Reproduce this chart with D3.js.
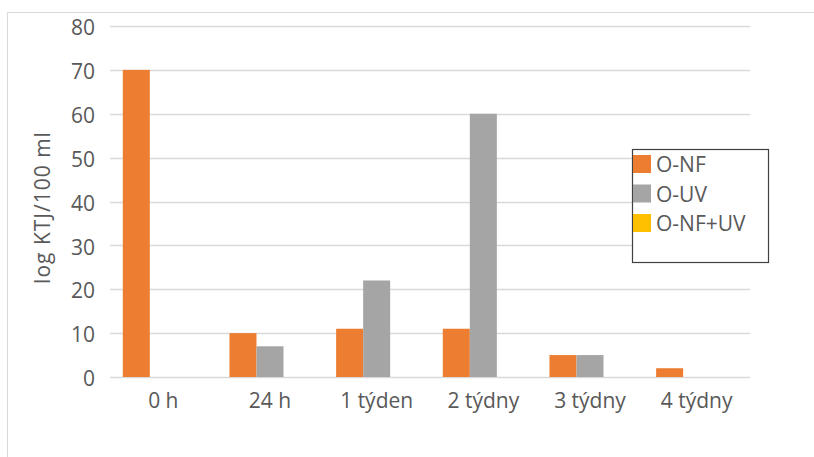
<!DOCTYPE html>
<html>
<head>
<meta charset="utf-8">
<script src="https://cdn.jsdelivr.net/npm/d3@7"></script>
<style>
  html, body { margin: 0; padding: 0; background: #fff; }
  svg { display: block; }
  svg text { font-family: "Open Sans", "Noto Sans", sans-serif; }
</style>
</head>
<body>
<svg id="chart" width="814" height="457"></svg>
<script>
// Time points after treatment
const categories = ["0 h", "24 h", "1 týden", "2 týdny", "3 týdny", "4 týdny"];
// Series names and colours
const seriesNames = ["O-NF", "O-UV", "O-NF+UV"];
const seriesColors = ["#ED7D31", "#A5A5A5", "#FFC000"];
// Values (log KTJ/100 ml) per series
const valuesONF = [70, 10, 11, 11, 5, 2];
const valuesOUV = [0, 7, 22, 60, 5, 0];
const valuesONFUV = [0, 0, 0, 0, 0, 0];
// Y axis ticks
const yTicks = [0, 10, 20, 30, 40, 50, 60, 70, 80];

const seriesValues = [valuesONF, valuesOUV, valuesONFUV];

const svg = d3.select("#chart");
const W = 814, H = 457;
const plot = { left: 110, right: 750, top: 26, bottom: 377 };
const textColor = "#595959";
const fontFamily = "'Open Sans', 'Noto Sans', sans-serif";

// Outer chart-area frame (top and left edges visible)
svg.append("path")
  .attr("d", `M7.5,${H} L7.5,12.5 L${W},12.5`)
  .attr("fill", "none")
  .attr("stroke", "#D9D9D9")
  .attr("stroke-width", 1);

const x = d3.scaleBand().domain(categories).range([plot.left, plot.right]).paddingInner(0).paddingOuter(0);
const groupWidth = x.bandwidth() * 0.76;
const xs = d3.scaleBand().domain(seriesNames).range([0, groupWidth]).padding(0);
const y = d3.scaleLinear().domain([0, 80]).range([plot.bottom, plot.top]);

// Horizontal gridlines
svg.append("g")
  .selectAll("line")
  .data(yTicks)
  .join("line")
  .attr("x1", plot.left).attr("x2", plot.right)
  .attr("y1", d => Math.round(y(d)) + 0.5).attr("y2", d => Math.round(y(d)) + 0.5)
  .attr("stroke", "#D9D9D9").attr("stroke-width", 1.5);

// Y axis labels
const yAxis = d3.axisLeft(y).tickValues(yTicks).tickSize(0).tickPadding(10);
const gy = svg.append("g").attr("transform", `translate(${plot.left - 5},2)`).call(yAxis);
gy.attr("font-family", fontFamily).attr("font-size", 21);
gy.select(".domain").remove();
gy.selectAll("text").attr("fill", textColor);

// X axis labels
const xAxis = d3.axisBottom(x).tickSize(0).tickPadding(16);
const gx = svg.append("g").attr("transform", `translate(0,${plot.bottom})`).call(xAxis);
gx.attr("font-family", fontFamily).attr("font-size", 21);
gx.select(".domain").remove();
gx.selectAll("text").attr("fill", textColor);

// Bars
const groups = svg.append("g")
  .selectAll("g")
  .data(categories)
  .join("g")
  .attr("transform", c => `translate(${x(c) + (x.bandwidth() - groupWidth) / 2},0)`);

groups.selectAll("rect")
  .data((c, i) => seriesNames.map((s, k) => ({ s, k, v: seriesValues[k][i] })))
  .join("rect")
  .attr("x", d => xs(d.s))
  .attr("width", xs.bandwidth())
  .attr("y", d => y(d.v))
  .attr("height", d => y(0) - y(d.v))
  .attr("fill", d => seriesColors[d.k]);

// Y axis title
svg.append("text")
  .attr("transform", `translate(50,${(plot.top + plot.bottom) / 2 + 6}) rotate(-90)`)
  .attr("text-anchor", "middle")
  .attr("fill", textColor)
  .attr("font-size", 21)
  .attr("letter-spacing", 1)
  .text("log KTJ/100 ml");

// Legend
const legend = svg.append("g").attr("transform", "translate(632,149)");
legend.append("rect")
  .attr("x", 0.5).attr("y", 0.5).attr("width", 136).attr("height", 113)
  .attr("fill", "#fff").attr("stroke", "#404040").attr("stroke-width", 1.2);
const items = legend.selectAll("g.item")
  .data(seriesNames)
  .join("g")
  .attr("class", "item")
  .attr("transform", (d, i) => `translate(1,${6 + i * 29.5})`);
items.append("rect")
  .attr("width", 18).attr("height", 18)
  .attr("fill", (d, i) => seriesColors[i]);
items.append("text")
  .attr("x", 23).attr("y", 17)
  .attr("fill", textColor)
  .attr("font-size", 21)
  .text(d => d);
</script>
</body>
</html>
